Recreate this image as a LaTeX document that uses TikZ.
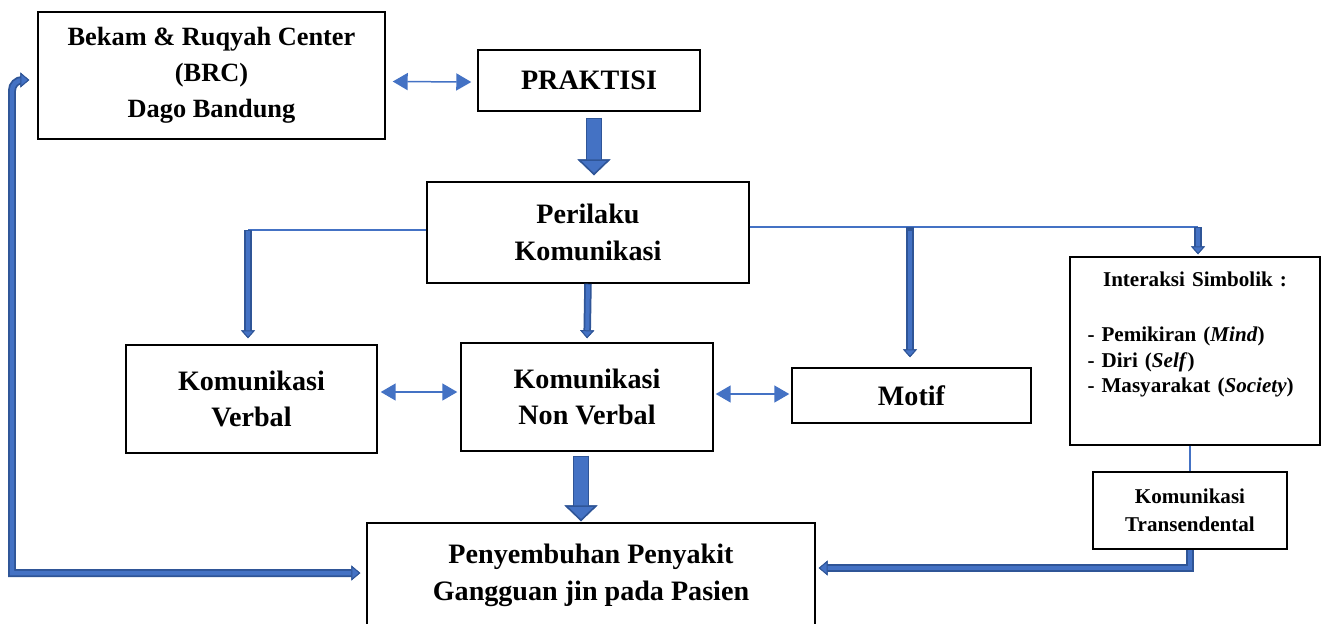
\documentclass[tikz,border=0pt]{standalone}
\usepackage{fontspec}
\setmainfont{Liberation Serif}
\usetikzlibrary{arrows.meta, positioning, calc}
\definecolor{midblue}{HTML}{4472C4}
\definecolor{dkblue}{HTML}{2F5597}

\begin{document}
\begin{tikzpicture}[
        x=0.02cm, y=-0.02cm,
        box/.style={draw, rectangle, line width=0.3mm, align=center, inner sep=0pt, font=\bfseries\fontsize{16}{21}\selectfont},
        smallbox/.style={box, font=\bfseries\fontsize{12}{14.5}\selectfont},
        thin/.style={draw=midblue, line width=0.3mm},
        twohead/.style={thin, >={Triangle[length=3mm,width=3.4mm]}, <->},
        fat/.style={draw=midblue, line width=2.8mm, shorten <=0.2mm,
          >={Triangle[length=3.2mm,width=6.6mm,line width=0.3mm,color=dkblue,fill=midblue]}, ->,
          preaction={draw=dkblue, line width=3.2mm, shorten <=0mm}},
        slim/.style={draw=midblue, line width=0.8mm, shorten <=0.15mm,
          >={Triangle[length=1.6mm,width=2.8mm,line width=0.2mm,color=dkblue,fill=midblue]}, ->,
          preaction={draw=dkblue, line width=1.5mm, shorten <=0mm}},
        pipe/.style={draw=midblue, line width=0.9mm,
          >={Triangle[length=1.8mm,width=3mm,line width=0.2mm,color=dkblue,fill=midblue]},
          preaction={draw=dkblue, line width=1.6mm}}
      ]
      \useasboundingbox (0,0) rectangle (1329,623);

      % Boxes
      \node [box, minimum width=69.4mm, minimum height=25.4mm, font=\bfseries\fontsize{15}{20.5}\selectfont] (brc) at (211.5,75.5) {Bekam \& Ruqyah Center\\(BRC)\\Dago Bandung};
      \node [box, minimum width=44.4mm, minimum height=12.2mm] (prak) at (589,80.5) {PRAKTISI};
      \node [box, minimum width=64.4mm, minimum height=20.2mm] (peril) at (588,232.5) {Perilaku\\Komunikasi};
      \node [box, minimum width=50.2mm, minimum height=21.6mm] (verbal) at (251.5,399) {Komunikasi\\Verbal};
      \node [box, minimum width=50.4mm, minimum height=21.6mm] (nonverb) at (587,397) {Komunikasi\\Non Verbal};
      \node [box, minimum width=47.8mm, minimum height=11mm] (motif) at (911.5,395.5) {Motif};
      \node [smallbox, minimum width=50mm, minimum height=37.6mm, text width=43mm, align=left] (inter) at (1195,351)
        {\makebox[\linewidth]{Interaksi Simbolik :}\\[6mm]
         - Pemikiran (\textit{Mind})\\
         - Diri (\textit{Self})\\
         - Masyarakat (\textit{Society})\\[2.4mm]\mbox{}};
      \node [smallbox, minimum width=38.8mm, minimum height=15.4mm, font=\bfseries\fontsize{12}{16}\selectfont] (trans) at (1190,510.5) {Komunikasi\\Transendental};
      \node [box, minimum width=89.6mm, minimum height=20.8mm] (peny) at (591,575) {Penyembuhan Penyakit\\Gangguan jin pada Pasien};

      % Turning points
      \coordinate (lk) at (248,230);
      \coordinate (rk) at (1198,227);

      % Connectors
      \draw [twohead] ($(brc.east)+(7,6)$) -- ($(prak.west)+(-6,1.5)$);
      \draw [fat] ($(prak.south)+(5,6)$) -- ($(peril.north)+(6,-6)$);

      \draw [thin] (peril.west |- lk) -- (lk);
      \draw [slim, shorten >=1.2mm] (lk) -- (lk |- verbal.north);
      \draw [slim, shorten >=0.8mm] (peril.south) -- (nonverb.north);
      \draw [thin] (peril.east |- rk) -- (rk);
      \draw [slim, shorten >=0.4mm] (rk) -- (rk |- inter.north);
      \draw [slim, shorten <=0.8mm, shorten >=2mm] ($(motif.north |- rk)+(-1.5,0)$) -- ($(motif.north)+(-1.5,0)$);

      \draw [twohead] ($(verbal.east)+(3,-7)$) -- ($(nonverb.west)+(-3,-5)$);
      \draw [twohead] ($(nonverb.east)+(2,-3)$) -- ($(motif.west)+(-2,-1.5)$);

      \draw [fat] ($(nonverb.south)+(-6,4)$) -- ($(peny.north)+(-10,-1)$);

      \draw [thin] (trans.north |- inter.south) -- (trans.north);
      \draw [pipe, ->] (trans.south) |- ($(peny.east)+(3,-7)$);
      \draw [pipe, <->] ($(peny.west)+(-6,-2)$) -- (12,573) [rounded corners=6] |- ($(brc.west)+(-8,4.5)$);

    \end{tikzpicture}
\end{document}
